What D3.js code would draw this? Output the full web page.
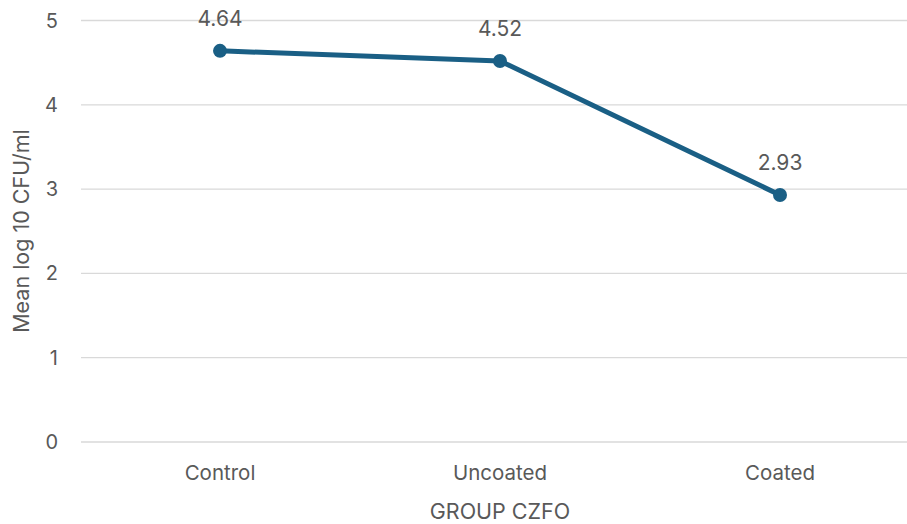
<!DOCTYPE html>
<html>
<head>
<meta charset="utf-8">
<script src="https://cdn.jsdelivr.net/npm/d3@7"></script>
<style>
  body { margin: 0; background: #fff; }
  text { font-family: Inter, "Open Sans", sans-serif; fill: #595959; }
</style>
</head>
<body>
<script>
(function() {
  'use strict';

  const groups = ['Control', 'Uncoated', 'Coated'];
  const meanLog = [4.64, 4.52, 2.93];
  const yTicks = [0, 1, 2, 3, 4, 5];

  const w = 907;
  const h = 524;
  const left = 81;
  const top = 20.5;
  const bottom = 442;

  const x = d3.scaleBand()
    .domain(groups)
    .range([left - 1, 920]);

  const y = d3.scaleLinear()
    .domain([0, 5])
    .range([bottom, top]);

  const svg = d3.select('body')
    .append('svg')
    .attr('width', w)
    .attr('height', h);

  // gridlines
  svg.selectAll('line.grid')
    .data(yTicks)
    .enter()
    .append('line')
    .attr('class', 'grid')
    .attr('x1', left)
    .attr('x2', w)
    .attr('y1', d => y(d))
    .attr('y2', d => y(d))
    .attr('stroke', '#d9d9d9')
    .attr('stroke-width', 1.3);

  // y tick labels
  svg.selectAll('text.ytick')
    .data(yTicks)
    .enter()
    .append('text')
    .attr('class', 'ytick')
    .attr('x', 58)
    .attr('y', d => y(d))
    .attr('dy', '0.35em')
    .attr('text-anchor', 'end')
    .style('font-size', '20px')
    .text(d => d);

  // x category labels
  svg.selectAll('text.xtick')
    .data(groups)
    .enter()
    .append('text')
    .attr('class', 'xtick')
    .attr('x', d => x(d) + x.bandwidth() / 2)
    .attr('y', 480)
    .attr('text-anchor', 'middle')
    .style('font-size', '20.5px')
    .text(d => d);

  // axis titles
  svg.append('text')
    .attr('x', 500)
    .attr('y', 519)
    .attr('text-anchor', 'middle')
    .style('font-size', '21.5px')
    .text('GROUP CZFO');

  svg.append('text')
    .attr('transform', 'translate(29,231) rotate(-90)')
    .attr('text-anchor', 'middle')
    .style('font-size', '21.5px')
    .text('Mean log 10 CFU/ml');

  const pts = groups.map((g, i) => [x(g) + x.bandwidth() / 2, y(meanLog[i])]);

  svg.append('path')
    .attr('d', d3.line()(pts))
    .attr('fill', 'none')
    .attr('stroke', '#1a5f85')
    .attr('stroke-width', 5)
    .attr('stroke-linejoin', 'round');

  svg.selectAll('circle')
    .data(pts)
    .enter()
    .append('circle')
    .attr('cx', d => d[0])
    .attr('cy', d => d[1])
    .attr('r', 7)
    .attr('fill', '#1a5f85');

  svg.selectAll('text.val')
    .data(meanLog)
    .enter()
    .append('text')
    .attr('class', 'val')
    .attr('x', (d, i) => pts[i][0])
    .attr('y', (d, i) => pts[i][1] - 25)
    .attr('text-anchor', 'middle')
    .style('font-size', '21px')
    .text(d => d.toFixed(2));
}());
</script>
</body>
</html>
